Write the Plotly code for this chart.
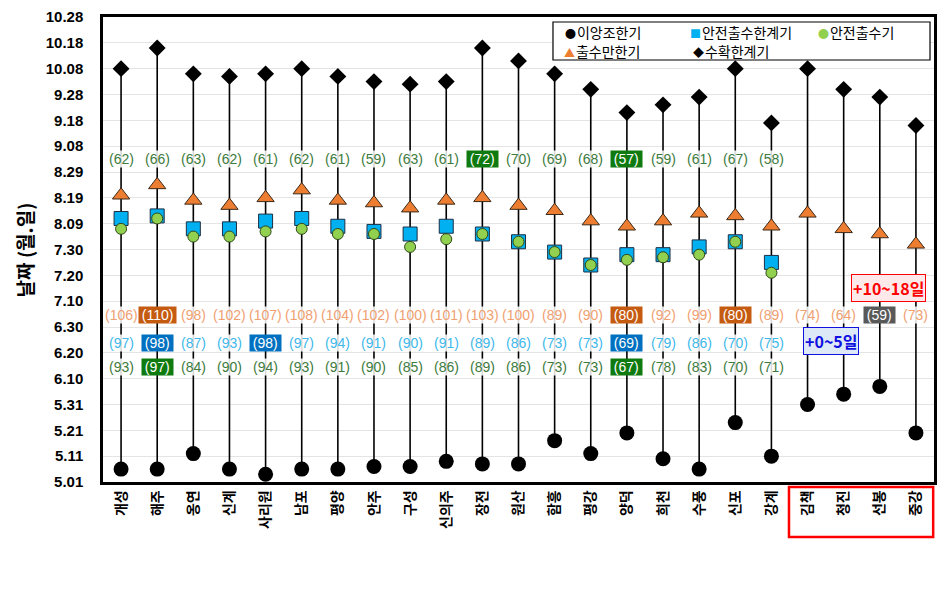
import plotly.graph_objects as go

# ---------------- data ----------------
stations = ["개성", "해주", "옹연", "신계", "사리원", "남포", "평양", "안주", "구성", "신의주",
            "장전", "원산", "함흥", "평강", "양덕", "희천", "수풍", "신포", "강계",
            "김책", "청진", "선봉", "중강"]

# days after May 1 (5.01 = 0)
early_transplant = [5, 5, 11, 5, 3, 5, 5, 6, 6, 8, 7, 7, 16, 11, 19, 9, 5, 23, 10, 30, 34, 37, 19]
safe_heading_limit = [102, 103, 98, 98, 101, 102, 99, 97, 96, 99, 96, 93, 89, 84, 88, 88, 91, 93, 85,
                      None, None, None, None]
safe_heading = [98, 102, 95, 95, 97, 98, 96, 96, 91, 94, 96, 93, 89, 84, 86, 87, 88, 93, 81,
                None, None, None, None]
late_heading = [111, 115, 109, 107, 110, 113, 109, 108, 106, 109, 110, 107, 105, 101, 99, 101, 104, 103, 99,
                104, 98, 96, 92]
harvest_limit = [160, 168, 158, 157, 158, 160, 157, 155, 154, 155, 168, 163, 158, 152, 143, 146, 149, 160, 139,
                 160, 152, 149, 138]

# duration labels (days)
lbl_ripen = [62, 66, 63, 62, 61, 62, 61, 59, 63, 61, 72, 70, 69, 68, 57, 59, 61, 67, 58]
lbl_late = [106, 110, 98, 102, 107, 108, 104, 102, 100, 101, 103, 100, 89, 90, 80, 92, 99, 80, 89, 74, 64, 59, 73]
lbl_limit = [97, 98, 87, 93, 98, 97, 94, 91, 90, 91, 89, 86, 73, 73, 69, 79, 86, 70, 75]
lbl_safe = [93, 97, 84, 90, 94, 93, 91, 90, 85, 86, 89, 86, 73, 73, 67, 78, 83, 70, 71]

hl_ripen = {10: "#0f7a0f", 14: "#0f7a0f"}
hl_late = {1: "#c55a11", 14: "#c55a11", 17: "#c55a11", 21: "#595959"}
hl_limit = {1: "#0070c0", 4: "#0070c0", 14: "#0070c0"}
hl_safe = {1: "#0f7a0f", 14: "#0f7a0f"}

ytick_vals = list(range(0, 181, 10))
ytick_text = ["5.01", "5.11", "5.21", "5.31", "6.10", "6.20", "6.30", "7.10", "7.20", "7.30",
              "8.09", "8.19", "8.29", "9.08", "9.18", "9.28", "10.08", "10.18", "10.28"]

# label row positions (in y data units)
ROW_RIPEN, ROW_LATE, ROW_LIMIT, ROW_SAFE = 125.2, 64.5, 54.0, 44.7

KFONT = "Noto Sans CJK KR"
NFONT = "Liberation Sans"

fig = go.Figure()

# vertical stems
sx, sy = [], []
for s, a, b in zip(stations, early_transplant, harvest_limit):
    sx += [s, s, None]
    sy += [a, b, None]
fig.add_trace(go.Scatter(x=sx, y=sy, mode="lines", line=dict(color="black", width=1.6),
                         showlegend=False, hoverinfo="skip"))

fig.add_trace(go.Scatter(x=stations, y=early_transplant, mode="markers", name="이앙조한기",
                         marker=dict(symbol="circle", size=15, color="black")))
fig.add_trace(go.Scatter(x=stations, y=harvest_limit, mode="markers", name="수확한계기",
                         marker=dict(symbol="diamond", size=13, color="black")))
fig.add_trace(go.Scatter(x=stations, y=late_heading, mode="markers", name="출수만한기",
                         marker=dict(symbol="triangle-up", size=15, color="#ed7d31",
                                     line=dict(color="#3b2a1a", width=1))))
fig.add_trace(go.Scatter(x=stations, y=safe_heading_limit, mode="markers", name="안전출수한계기",
                         marker=dict(symbol="square", size=14, color="#00b0f0",
                                     line=dict(color="#1d2f45", width=1))))
fig.add_trace(go.Scatter(x=stations, y=safe_heading, mode="markers", name="안전출수기",
                         marker=dict(symbol="circle", size=11, color="#92d050",
                                     line=dict(color="#2f4a18", width=1))))

annotations = []
THIN = "\u2009"


def add_row(values, yrow, color, highlights):
    for i, v in enumerate(values):
        bg = highlights.get(i)
        txt = f"{THIN}({v}){THIN}" if bg else f"({v})"
        annotations.append(dict(
            x=stations[i], y=yrow, xref="x", yref="y", text=txt, showarrow=False,
            xanchor="center", yanchor="middle",
            font=dict(family=NFONT, size=14, color="white" if bg else color),
            bgcolor=bg if bg else "rgba(255,255,255,0.85)", borderpad=0,
        ))


add_row(lbl_ripen, ROW_RIPEN, "#3d7a3d", hl_ripen)
add_row(lbl_late, ROW_LATE, "#f0a070", hl_late)
add_row(lbl_limit, ROW_LIMIT, "#40b8ea", hl_limit)
add_row(lbl_safe, ROW_SAFE, "#3d7a3d", hl_safe)

# manual legend (symbol + name)
legend_items = [
    ("●", "black", "이앙조한기", 0.5535, 0.9677),
    ("■", "#00b0f0", "안전출수한계기", 0.7040, 0.9677),
    ("●", "#92d050", "안전출수기", 0.8580, 0.9677),
    ("▲", "#ed7d31", "출수만한기", 0.5523, 0.9269),
    ("◆", "black", "수확한계기", 0.7076, 0.9269),
]
for sym, col, name, lx, ly in legend_items:
    annotations.append(dict(
        x=lx, y=ly, xref="paper", yref="paper", xanchor="left", yanchor="middle",
        text=f'<span style="color:{col};font-size:11px">{sym}</span><span style="font-size:4px"> </span>{name}',
        showarrow=False, font=dict(family=KFONT, size=14, color="black")))

# axis title
annotations.append(dict(x=-0.094, y=0.5, xref="paper", yref="paper", text="날짜 (월.일)",
                        textangle=-90, showarrow=False, xanchor="center", yanchor="middle",
                        font=dict(family=KFONT, size=19, color="black", weight="bold")))

# boxed notes
annotations.append(dict(x=0.9447, y=0.418, xref="paper", yref="paper", text="+10~18일",
                        xanchor="center", yanchor="middle",
                        showarrow=False, font=dict(family=KFONT, size=16, color="#ff0000", weight="bold"),
                        bgcolor="#fde9e9", bordercolor="#ff0000", borderwidth=1, borderpad=1))
annotations.append(dict(x=0.876, y=0.303, xref="paper", yref="paper", text="+0~5일",
                        xanchor="center", yanchor="middle",
                        showarrow=False, font=dict(family=KFONT, size=16, color="#1010e0", weight="bold"),
                        bgcolor="#dde9f6", bordercolor="#1010e0", borderwidth=1, borderpad=1))

shapes = [
    # legend frame
    dict(type="rect", xref="paper", yref="paper", x0=0.5415, x1=0.9952, y0=0.9075, y1=0.9892,
         line=dict(color="black", width=1.2), fillcolor="white", layer="above"),
    # red frame around last four stations
    dict(type="rect", xref="paper", yref="paper", x0=0.8255, x1=0.999, y0=-0.0108, y1=-0.1183,
         line=dict(color="#ff0000", width=2.5)),
]

# the page body adds an 8px offset, so the figure is 8px smaller than the window
fig.update_layout(
    width=941, height=581,
    margin=dict(l=95, r=15, t=9, b=107),
    paper_bgcolor="white", plot_bgcolor="white",
    font=dict(family=KFONT, color="black"),
    showlegend=False,
    annotations=annotations, shapes=shapes,
    xaxis=dict(type="category", categoryorder="array", categoryarray=stations,
               range=[-0.5, len(stations) - 0.5], tickangle=-90, showgrid=False,
               showline=True, linecolor="black", linewidth=2.5, mirror=True, ticks="",
               automargin=False,
               tickfont=dict(family=KFONT, size=14, color="black", weight="bold")),
    yaxis=dict(range=[0, 180], tickvals=ytick_vals, ticktext=ytick_text, showgrid=True,
               gridcolor="#e4e4e4", gridwidth=1, zeroline=False, automargin=False,
               showline=True, linecolor="black", linewidth=2.5, mirror=True, ticks="",
               ticklabelstandoff=14,
               tickfont=dict(family="Liberation Sans", size=15, color="black", weight="bold")),
)

fig.write_html("out.html")
